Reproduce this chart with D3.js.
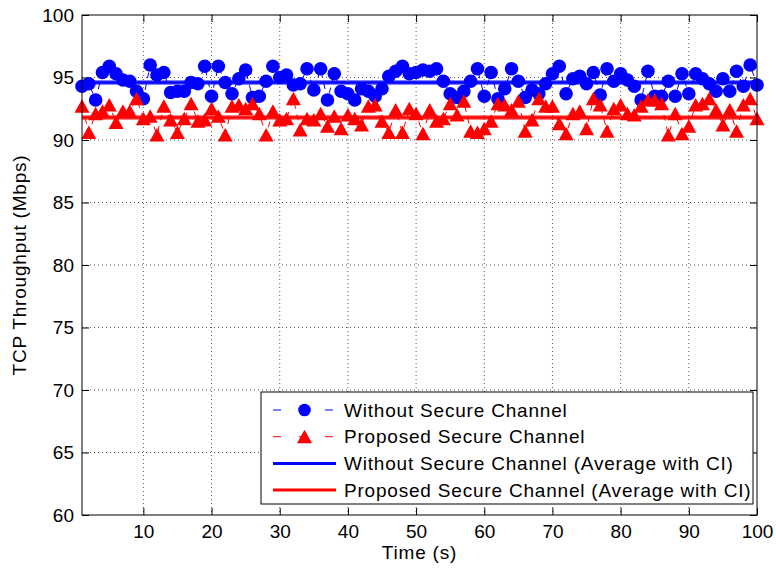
<!DOCTYPE html>
<html>
	<head>
		<meta charset="utf-8" />
		<title></title>
		<script src="https://cdn.jsdelivr.net/npm/d3@7"></script>
		<style>
		body{
			margin:0;
			background:#fff;
		}
		svg text{
			font-family:"Liberation Sans", Arial, sans-serif;
			font-size:19px;
			fill:#000;
		}
		svg .label{
			letter-spacing:0.8px;
		}
		svg .grid line{
			stroke:#555;
			stroke-width:1px;
			stroke-dasharray:1,3;
		}
		svg .axis path{
			display:none;
		}
		svg .axis line{
			stroke:#000;
		}
		</style>
	</head>
	<body>
		<div id="chart"></div>

		<script type="text/javascript">
// throughput per second
var withoutSecure = [
	94.3, 94.5, 93.2, 95.4, 95.9, 95.3, 94.8, 94.7, 93.9, 93.3,
	96.0, 95.2, 95.4, 93.8, 93.9, 93.9, 94.6, 94.5, 95.9, 93.5,
	95.9, 94.6, 93.7, 94.9, 95.6, 93.4, 93.5, 94.7, 95.9, 95.0,
	95.2, 94.4, 94.5, 95.7, 94.0, 95.7, 93.2, 95.3, 93.9, 93.7,
	93.2, 94.1, 93.9, 93.5, 94.1, 95.1, 95.5, 95.9, 95.3, 95.4,
	95.6, 95.5, 95.7, 94.7, 93.7, 93.4, 93.9, 94.7, 95.7, 93.5,
	95.4, 93.3, 94.1, 95.7, 94.7, 93.4, 94.0, 93.7, 94.5, 95.3,
	95.9, 93.7, 94.9, 95.1, 94.5, 95.4, 93.6, 95.7, 94.7, 95.3,
	94.8, 94.3, 93.2, 95.5, 93.5, 93.5, 94.7, 93.5, 95.3, 93.7,
	95.3, 94.9, 94.5, 93.9, 94.9, 93.9, 95.5, 94.3, 96.0, 94.4
];
var proposedSecure = [
	92.7, 90.6, 92.1, 92.3, 92.8, 91.4, 92.3, 92.3, 93.3, 91.7,
	91.9, 90.4, 92.7, 91.6, 90.6, 91.7, 92.9, 91.5, 91.6, 92.5,
	91.9, 90.4, 92.7, 92.8, 92.5, 92.9, 92.1, 90.4, 92.3, 91.6,
	91.7, 93.3, 90.8, 91.7, 91.6, 92.1, 91.1, 91.9, 90.9, 92.0,
	91.7, 91.2, 92.7, 92.8, 91.5, 90.6, 92.4, 90.6, 92.5, 92.1,
	90.5, 92.4, 91.5, 91.7, 92.9, 92.0, 93.1, 90.7, 90.6, 90.9,
	91.5, 92.9, 92.8, 92.4, 93.1, 90.7, 91.6, 93.3, 92.7, 92.7,
	91.3, 90.5, 92.1, 92.3, 90.9, 93.3, 92.8, 90.7, 92.5, 92.8,
	92.1, 92.0, 92.7, 93.2, 93.2, 92.9, 90.4, 92.1, 90.5, 91.1,
	92.8, 92.9, 93.3, 92.4, 91.2, 92.4, 90.7, 92.8, 93.3, 91.7
];
// lower CI, mean, upper CI
var avgWithout = [94.48, 94.6, 94.72];
var avgProposed = [91.68, 91.8, 91.92];

var xTicks = [10, 20, 30, 40, 50, 60, 70, 80, 90, 100];
var yTicks = [60, 65, 70, 75, 80, 85, 90, 95, 100];
var legendLabels = [
	"Without Secure Channel",
	"Proposed Secure Channel",
	"Without Secure Channel (Average with CI)",
	"Proposed Secure Channel (Average with CI)"
];

var width = 776,
    height = 572;

//绘图区
var pLeft = 82, pRight = 757, pTop = 15, pBottom = 515;

var svg = d3.select("#chart")
	.append("svg")
	.attr("width", width)
	.attr("height", height);

var x = d3.scaleLinear().domain([1, 100]).range([pLeft, pRight]);
var y = d3.scaleLinear().domain([60, 100]).range([pBottom, pTop]);

//网格
var grid = svg.append("g").attr("class", "grid");
grid.selectAll(".gx")
	.data(xTicks.filter(function(d){ return d < 100; }))
	.enter()
	.append("line")
	.attr("x1", function(d){ return x(d); })
	.attr("x2", function(d){ return x(d); })
	.attr("y1", pTop)
	.attr("y2", pBottom);
grid.selectAll(".gy")
	.data(yTicks.filter(function(d){ return d > 60 && d < 100; }))
	.enter()
	.append("line")
	.attr("x1", pLeft)
	.attr("x2", pRight)
	.attr("y1", function(d){ return y(d); })
	.attr("y2", function(d){ return y(d); });

//坐标轴 (刻度朝内)
svg.append("g")
	.attr("class", "axis")
	.attr("transform", "translate(0," + pBottom + ")")
	.call(d3.axisBottom(x).tickValues(xTicks).tickSize(-7).tickPadding(10));
svg.append("g")
	.attr("class", "axis")
	.attr("transform", "translate(0," + pTop + ")")
	.call(d3.axisTop(x).tickValues(xTicks).tickSize(-7).tickFormat(""));
svg.append("g")
	.attr("class", "axis")
	.attr("transform", "translate(" + pLeft + ",0)")
	.call(d3.axisLeft(y).tickValues(yTicks).tickSize(-7).tickPadding(8));
svg.append("g")
	.attr("class", "axis")
	.attr("transform", "translate(" + pRight + ",0)")
	.call(d3.axisRight(y).tickValues(yTicks).tickSize(-7).tickFormat(""));
svg.selectAll(".axis").attr("font-size", null).attr("font-family", null);

var line = d3.line()
	.x(function(d, i){ return x(i + 1); })
	.y(function(d){ return y(d); });

var tri = "M0,-7L7.5,6.5L-7.5,6.5Z";

var series = [
	{values: withoutSecure, color: "#0000ff", marker: "circle"},
	{values: proposedSecure, color: "#ff0000", marker: "triangle"}
];

series.forEach(function(s){
	svg.append("path")
		.attr("d", line(s.values))
		.attr("fill", "none")
		.attr("stroke", s.color)
		.attr("stroke-width", 1)
		.attr("stroke-dasharray", "6,6");
	var g = svg.append("g");
	if(s.marker == "circle"){
		g.selectAll("circle")
			.data(s.values)
			.enter()
			.append("circle")
			.attr("cx", function(d, i){ return x(i + 1); })
			.attr("cy", function(d){ return y(d); })
			.attr("r", 6.8)
			.attr("fill", s.color);
	}else{
		g.selectAll("path")
			.data(s.values)
			.enter()
			.append("path")
			.attr("d", tri)
			.attr("transform", function(d, i){ return "translate(" + x(i + 1) + "," + y(d) + ")"; })
			.attr("fill", s.color);
	}
});

//平均值与置信区间
[{v: avgWithout, color: "#0000ff"}, {v: avgProposed, color: "#ff0000"}].forEach(function(a){
	svg.selectAll(null)
		.data(a.v)
		.enter()
		.append("line")
		.attr("x1", x(1))
		.attr("x2", x(100))
		.attr("y1", function(d){ return y(d); })
		.attr("y2", function(d){ return y(d); })
		.attr("stroke", a.color)
		.attr("stroke-width", function(d, i){ return i == 1 ? 2.5 : 1; });
});

//边框
svg.append("rect")
	.attr("x", pLeft)
	.attr("y", pTop)
	.attr("width", pRight - pLeft)
	.attr("height", pBottom - pTop)
	.attr("fill", "none")
	.attr("stroke", "#000")
	.attr("stroke-width", 1);

//图例
var legend = svg.append("g").attr("transform", "translate(261,392)");
legend.append("rect")
	.attr("width", 492)
	.attr("height", 112)
	.attr("fill", "#fff")
	.attr("stroke", "#000")
	.attr("stroke-width", 1);

var rows = legend.selectAll(".row")
	.data(legendLabels)
	.enter()
	.append("g")
	.attr("transform", function(d, i){ return "translate(0," + (18 + i * 26.7) + ")"; });

rows.append("line")
	.attr("x1", 12)
	.attr("x2", 75)
	.attr("stroke", function(d, i){ return i % 2 == 0 ? "#0000ff" : "#ff0000"; })
	.attr("stroke-width", function(d, i){ return i < 2 ? 1 : 3; })
	.attr("stroke-dasharray", function(d, i){ return i < 2 ? "8,18" : null; });
rows.filter(function(d, i){ return i == 0; })
	.append("circle")
	.attr("cx", 43.5)
	.attr("r", 6.3)
	.attr("fill", "#0000ff");
rows.filter(function(d, i){ return i == 1; })
	.append("path")
	.attr("d", tri)
	.attr("transform", "translate(43.5,0)")
	.attr("fill", "#ff0000");
rows.append("text")
	.attr("class", "label")
	.attr("x", 83)
	.attr("dy", "0.35em")
	.text(function(d){ return d; });

//轴标题
svg.append("text")
	.attr("class", "label")
	.attr("x", (pLeft + pRight) / 2)
	.attr("y", 559)
	.attr("text-anchor", "middle")
	.text("Time (s)");
svg.append("text")
	.attr("class", "label")
	.attr("transform", "translate(26," + ((pTop + pBottom) / 2) + ") rotate(-90)")
	.attr("text-anchor", "middle")
	.text("TCP Throughput (Mbps)");
		</script>
	</body>
</html>
